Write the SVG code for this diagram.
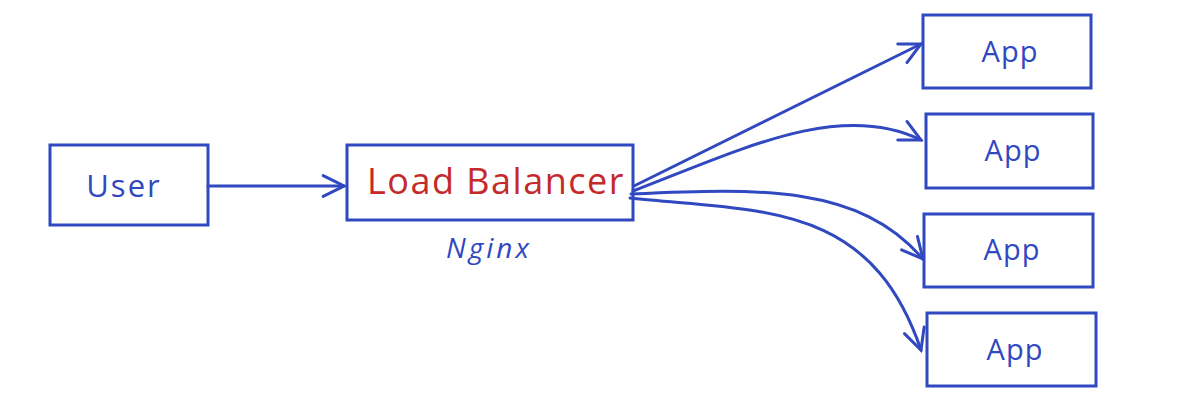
<svg xmlns="http://www.w3.org/2000/svg" width="1200" height="412" viewBox="0 0 1200 412">
<defs>
<style>
.box{fill:#fff;stroke:#3048c0;stroke-width:3}
.lbl{font-family:"Open Sans","Liberation Sans",sans-serif;fill:#3048c0;text-anchor:middle}
.red{fill:#c42a2a}
.con{fill:none;stroke:#3048c0;stroke-width:3;stroke-linecap:round}
</style>
<marker id="ah" viewBox="0 0 20 20" refX="18" refY="10" markerWidth="26" markerHeight="26" markerUnits="userSpaceOnUse" orient="auto">
<path d="M2 2 L18 10 L2 18" fill="none" stroke="#3048c0" stroke-width="2.3" stroke-linecap="round"/>
</marker>
</defs>
<rect width="1200" height="412" fill="#fff"/>
<g id="user"><rect class="box" x="50" y="145" width="158" height="80"/><text class="lbl" x="124" y="197" font-size="31" letter-spacing="2">User</text></g>
<g id="lb"><rect class="box" x="347" y="145" width="286" height="75"/><text class="lbl red" x="496" y="194" font-size="36" letter-spacing="1.5">Load Balancer</text><text class="lbl" x="489" y="258" font-size="28" font-style="italic" letter-spacing="3">Nginx</text></g>
<g id="app1"><rect class="box" x="923" y="15" width="168" height="73"/><text class="lbl" x="1010" y="62" font-size="29" letter-spacing="1">App</text></g>
<g id="app2"><rect class="box" x="926" y="114" width="167" height="74"/><text class="lbl" x="1013" y="161" font-size="29" letter-spacing="1">App</text></g>
<g id="app3"><rect class="box" x="924" y="214" width="169" height="73"/><text class="lbl" x="1012" y="260" font-size="29" letter-spacing="1">App</text></g>
<g id="app4"><rect class="box" x="927" y="313" width="169" height="73"/><text class="lbl" x="1015" y="360" font-size="29" letter-spacing="1">App</text></g>
<g id="connectors">
<path class="con" d="M208 186 L344 186" marker-end="url(#ah)"/>
<path class="con" d="M634 186 L921 44" marker-end="url(#ah)"/>
<path class="con" d="M633 191 C740 150 840 100 921 140" marker-end="url(#ah)"/>
<path class="con" d="M631 194 C760 188 860 185 923 259" marker-end="url(#ah)"/>
<path class="con" d="M630 198 C760 212 870 200 921 350" marker-end="url(#ah)"/>
</g>
</svg>
